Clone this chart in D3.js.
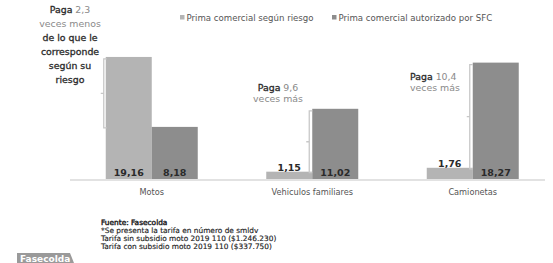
<!DOCTYPE html>
<html>
<head>
<meta charset="utf-8">
<script src="https://cdn.jsdelivr.net/npm/d3@7"></script>
<style>
  body { margin: 0; background: #fff; }
  text { font-family: "DejaVu Sans", "Liberation Sans", sans-serif; }
</style>
</head>
<body>
<div id="chart"></div>
<script>
var width = 553, height = 263;

// data
var categories = ['Motos', 'Vehiculos familiares', 'Camionetas'];
var seriesNames = ['Prima comercial según riesgo', 'Prima comercial autorizado por SFC'];
var riesgo = [19.16, 1.15, 1.76];
var sfc = [8.18, 11.02, 18.27];
var pagaNum = ['2,3', '9,6', '10,4'];
var pagaText = [
  ['veces menos', 'de lo que le', 'corresponde', 'según su', 'riesgo'],
  ['veces más'],
  ['veces más']
];
var notes = [
  'Fuente: Fasecolda',
  '*Se presenta la tarifa en número de smldv',
  'Tarifa sin subsidio moto 2019 110 ($1.246.230)',
  'Tarifa con subsidio moto 2019 110 ($337.750)'
];

var colors = ['#b4b4b4', '#8d8d8d'];
var fmt = function(v){ return v.toFixed(2).replace('.', ','); };

var svg = d3.select('#chart').append('svg')
            .attr('width', width).attr('height', height);

var x0 = d3.scaleBand().domain(categories).range([71.5, 553]).padding(0);
var x1 = d3.scaleBand().domain(seriesNames)
           .range([x0.bandwidth() / 2 - 46, x0.bandwidth() / 2 + 46]).padding(0);
var y = d3.scaleLinear().domain([0, 20]).range([179, 51.6]);

var rows = categories.map(function(c, i){
  return {cat: c, vals: [riesgo[i], sfc[i]], i: i};
});

// baseline
svg.append('line')
   .attr('x1', 70).attr('x2', 545)
   .attr('y1', y(0) + 1).attr('y2', y(0) + 1)
   .attr('stroke', '#e2e2e2').attr('stroke-width', 2);

var groups = svg.selectAll('g.grp').data(rows).enter().append('g')
    .attr('class', 'grp')
    .attr('transform', function(d){ return 'translate(' + x0(d.cat) + ',0)'; });

groups.selectAll('rect').data(function(d){
    return d.vals.map(function(v, k){ return {v: v, k: k}; });
  }).enter().append('rect')
    .attr('x', function(d){ return x1(seriesNames[d.k]); })
    .attr('width', x1.bandwidth())
    .attr('y', function(d){ return y(d.v); })
    .attr('height', function(d){ return y(0) - y(d.v); })
    .attr('fill', function(d){ return colors[d.k]; });

// value labels
groups.selectAll('text.val').data(function(d){
    return d.vals.map(function(v, k){ return {v: v, k: k}; });
  }).enter().append('text')
    .attr('class', 'val')
    .attr('x', function(d){ return x1(seriesNames[d.k]) + x1.bandwidth() / 2; })
    .attr('y', function(d){ return y(d.v) < y(0) - 14 ? y(0) - 3 : y(d.v) - 1; })
    .attr('text-anchor', 'middle')
    .attr('font-size', 9.5).attr('font-weight', 'bold')
    .attr('font-family', '"Liberation Sans", Arial, sans-serif')
    .attr('fill', '#2a2a2a')
    .text(function(d){ return fmt(d.v); });

// category labels
svg.selectAll('text.cat').data(categories).enter().append('text')
   .attr('class', 'cat')
   .attr('x', function(d){ return x0(d) + x0.bandwidth() / 2; })
   .attr('y', 195)
   .attr('text-anchor', 'middle')
   .attr('font-size', 8.2).attr('fill', '#555')
   .text(function(d){ return d; });

// brackets
var bracket = svg.append('g').attr('stroke', '#c8c8c8').attr('stroke-width', 1.3).attr('fill', 'none');
rows.forEach(function(d){
  var hi = Math.max(d.vals[0], d.vals[1]), lo = Math.min(d.vals[0], d.vals[1]);
  var bx = d.i === 0 ? x0(d.cat) + x1(seriesNames[0]) - 2 : x0(d.cat) + x1(seriesNames[1]) - 3;
  var top = y(hi) + 2, bot = y(lo) + 1, mid = (top + bot) / 2;
  bracket.append('path')
    .attr('d', 'M' + (bx + 3) + ',' + top + 'H' + bx + 'V' + bot + 'H' + (bx + 3) +
               'M' + bx + ',' + mid + 'H' + (bx - 3));
});

// annotations
var annoPos = [
  {x: 70, y: 13, anchor: 'middle'},
  {x: 278, y: 91, anchor: 'middle'},
  {x: 410, y: 80, anchor: 'start'}
];
rows.forEach(function(d){
  var p = annoPos[d.i];
  var t = svg.append('text').attr('x', p.x).attr('y', p.y)
             .attr('text-anchor', p.anchor).attr('font-size', 9.4);
  t.append('tspan').attr('fill', '#2a2a2a').attr('stroke', '#2a2a2a')
   .attr('stroke-width', 0.3).text('Paga ');
  t.append('tspan').attr('fill', '#8a8a8a').text(pagaNum[d.i]);
  pagaText[d.i].forEach(function(line, j){
    svg.append('text').attr('x', p.x).attr('y', p.y + 14 * (j + 1) - (d.i === 0 ? 0 : 3))
       .attr('text-anchor', p.anchor).attr('font-size', 9.4)
       .attr('fill', j === 0 ? '#8a8a8a' : '#2a2a2a')
       .attr('stroke', j === 0 ? 'none' : '#2a2a2a')
       .attr('stroke-width', 0.3)
       .text(line);
  });
});

// legend
var legX = [180, 332];
seriesNames.forEach(function(s, k){
  svg.append('rect').attr('x', legX[k]).attr('y', 15).attr('width', 4.5).attr('height', 4.5)
     .attr('fill', colors[k]);
  svg.append('text').attr('x', legX[k] + 6.5).attr('y', 20.8)
     .attr('font-size', 8.6).attr('fill', '#555').text(s);
});

// footnotes
svg.selectAll('text.note').data(notes).enter().append('text')
   .attr('class', 'note')
   .attr('x', 101)
   .attr('y', function(d, i){ return 224.5 + i * 8.3; })
   .attr('font-size', 7.4).attr('fill', '#222')
   .attr('stroke', '#222').attr('stroke-width', function(d, i){ return i === 0 ? 0.4 : 0.15; })
   .text(function(d){ return d; });

// logo tab
svg.append('path').attr('d', 'M17,263V253H70L74,263Z').attr('fill', '#9a9a9a');
svg.append('text').attr('x', 20).attr('y', 262).attr('font-size', 9)
   .attr('font-weight', 'bold').attr('fill', '#fff').text('Fasecolda');
</script>
</body>
</html>
